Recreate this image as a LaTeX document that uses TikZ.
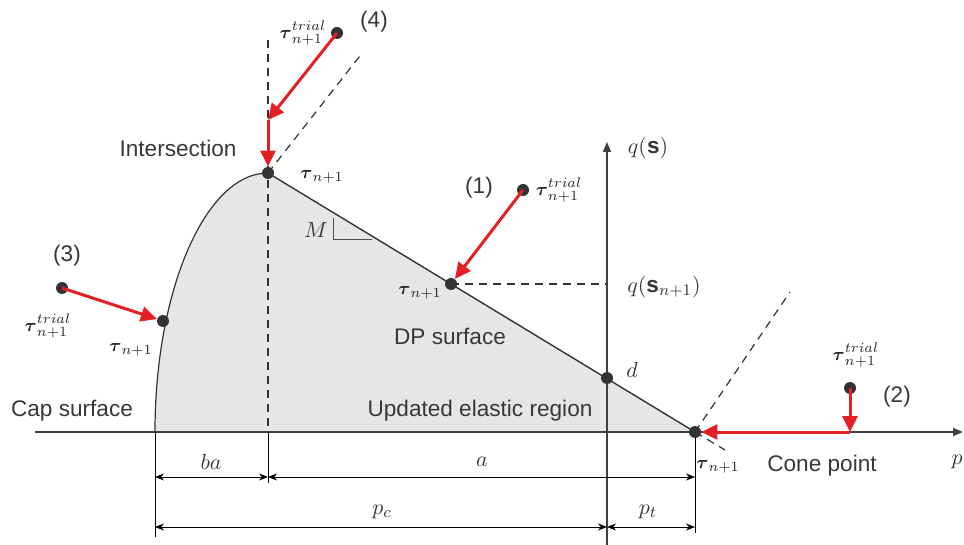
\documentclass[tikz,border=0pt]{standalone}
\usepackage{amsmath,amssymb}
\usepackage{fontspec}
\setmainfont{Liberation Sans}
\usetikzlibrary{positioning,arrows.meta,calc}

\definecolor{trialred}{RGB}{228,32,36}
\definecolor{regiongray}{RGB}{229,230,232}
\definecolor{txtgray}{RGB}{55,55,55}

\begin{document}
\begin{tikzpicture}[x=0.5pt,y=-0.5pt,
    every node/.style={font=\fontsize{11.3}{13}\selectfont,text=txtgray},
    taulab/.style={font=\fontsize{9.4}{11}\selectfont,text=black!85,inner sep=1pt},
    dot/.style={circle,fill=black!80,inner sep=0pt,minimum size=6pt},
    retmap/.style={draw=trialred,line width=1.5pt,-{Triangle[length=8pt,width=7.5pt]}},
    dimline/.style={thin,{Stealth[length=4.5pt,width=3.5pt]}-{Stealth[length=4.5pt,width=3.5pt]}},
    axisline/.style={draw=black!75,line width=0.8pt,-{Triangle[length=5pt,width=4pt]}},
    guide/.style={draw=black!80,line width=0.6pt,dash pattern=on 4pt off 3pt}]
        \useasboundingbox (0,0) rectangle (964,545);
        % points on the yield surface
        \coordinate (capfoot) at (155,432);
        \coordinate (orig) at (607,432);
        \coordinate (peakpt) at (268,173);
        \coordinate (conept) at (695,432);
        % elastic region
        \fill[regiongray] (capfoot) .. controls (155,289) and (206,173) .. (peakpt) -- (conept) -- cycle;
        \draw[black!80,line width=0.6pt] (capfoot) .. controls (155,289) and (206,173) .. (peakpt);
        \draw[black!80,line width=0.7pt] (peakpt) -- (conept);
        % axes
        \coordinate (pstart) at (35,432);\coordinate (pend) at (963,432);
        \coordinate (qbot) at (607,545);\coordinate (qtop) at (607,142);
        \draw[axisline] (pstart) -- (pend);
        \draw[axisline] (qbot) -- (qtop);
        \node (plab) at (957,462) {$p$};
        \node (qlab) at (648,148) {$q(\mathbf{s})$};
        % dashed guides
        \coordinate (dppt) at (451,284);
        \coordinate (vtop) at (268,40);\coordinate (vbot) at (268,432);
        \coordinate (ntop) at (363,52);\coordinate (ctop) at (790,292);\coordinate (ctail) at (725,450);
        \draw[guide] (vtop) -- (vbot);
        \draw[guide] (peakpt) -- (ntop);
        \draw[guide] (conept) -- (ctop);
        \draw[guide] (conept) -- (ctail);
        \draw[guide] (dppt) -- (dppt -| orig);
        % slope triangle
        \draw[black!70,thin] (333,218) -- (333,239) -- (372,239);
        \node (mlab) at (316,230) {$M$};
        % dimensions
        \coordinate (e1) at (155,537);\coordinate (e2) at (268,483);\coordinate (e3) at (695,533);
        \draw[thin] (capfoot) -- (e1);\draw[thin] (vbot) -- (e2);\draw[thin] (conept) -- (e3);
        \draw[dimline] (155,477) -- (268,477);
        \draw[dimline] (268,477) -- (695,477);
        \draw[dimline] (155,527) -- (607,527);
        \draw[dimline] (607,527) -- (695,527);
        \node (ba) at (211,462) {$ba$};
        \node (alab) at (482,462) {$a$};
        \node (pc) at (382,512) {$p_c$};
        \node (pt) at (648,512) {$p_t$};
        % stress points
        \node[dot] (peak) at (peakpt) {};
        \node[dot] (dp) at (dppt) {};
        \node[dot] (cap) at (163,321) {};
        \node[dot] (d) at (607,378) {};
        \node[dot] (cone) at (conept) {};
        % (1) Drucker-Prager return
        \node[dot] (t1) at (523,190) {};
        \draw[retmap] (t1.center) -- (dp);
        \node[taulab,right=2pt of t1] (t1lab) {$\boldsymbol{\tau}^{trial}_{n+1}$};
        \node (n1) at (479,188) {(1)};
        \node[taulab] (dplab) at (420,293) {$\boldsymbol{\tau}_{n+1}$};
        \node (qsn) at (664,287) {$q(\mathbf{s}_{n+1})$};
        % (2) cone point return
        \node[dot] (t2) at (850,388) {};
        \coordinate (c2) at (850,432);
        \draw[retmap] (t2.center) -- (c2);
        \draw[retmap] (c2) -- (cone);
        \node[taulab] (t2lab) at (856,355) {$\boldsymbol{\tau}^{trial}_{n+1}$};
        \node (n2) at (897,397) {(2)};
        \node[taulab] (conelab) at (718,467) {$\boldsymbol{\tau}_{n+1}$};
        \node (conetxt) at (822,466) {Cone point};
        % (3) cap return
        \node[dot] (t3) at (62,288) {};
        \draw[retmap] (t3.center) -- (cap);
        \node (n3) at (67,256) {(3)};
        \node[taulab] (t3lab) at (48,326) {$\boldsymbol{\tau}^{trial}_{n+1}$};
        \node[taulab] (caplab) at (131,350) {$\boldsymbol{\tau}_{n+1}$};
        % (4) intersection return
        \node[dot] (t4) at (337,33) {};
        \coordinate (bend4) at (268,120);
        \draw[retmap] (t4.center) -- (bend4);
        \draw[retmap] (bend4) -- (peak);
        \node[taulab,left=1pt of t4] (t4lab) {$\boldsymbol{\tau}^{trial}_{n+1}$};
        \node (n4) at (374,22) {(4)};
        \node[taulab] (peaklab) at (322,177) {$\boldsymbol{\tau}_{n+1}$};
        \node (dlab) at (632,370) {$d$};
        % region labels
        \node (intsec) at (178,148) {Intersection};
        \node (dpsurf) at (450,336) {DP surface};
        \node (elastic) at (480,411) {Updated elastic region};
        \node (capsurf) at (72,411) {Cap surface};
\end{tikzpicture}
\end{document}
